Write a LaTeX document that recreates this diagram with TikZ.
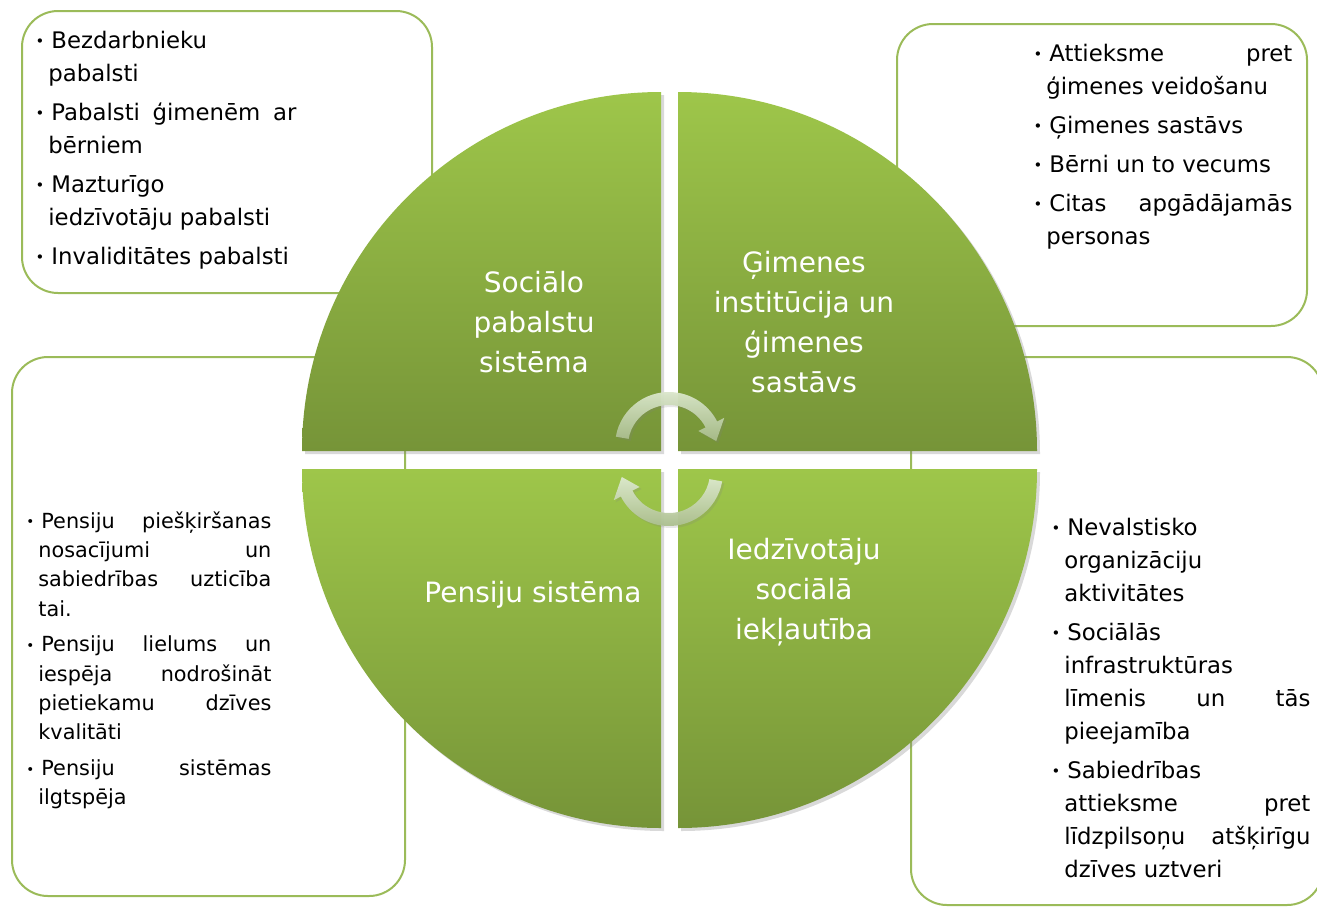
\documentclass[tikz,border=0pt]{standalone}
\usepackage{fontspec}
\setmainfont{DejaVu Sans}
\usetikzlibrary{calc}
\usetikzlibrary{shadows}
\definecolor{qlight}{RGB}{158,198,74}
\definecolor{qdark}{RGB}{118,148,56}
\definecolor{boxline}{RGB}{155,187,89}
\definecolor{arctop}{RGB}{222,234,208}
\definecolor{arcbot}{RGB}{168,188,138}
\newcommand{\bul}{\leavevmode\llap{\raisebox{0.1ex}{\scalebox{0.65}{\textbullet}}\hspace{2pt}}\hspace{1.5pt}}
\hyphenpenalty=10000
\exhyphenpenalty=10000

\begin{document}
\begin{tikzpicture}[
    x=0.5pt, y=-0.5pt,
    boxframe/.style={draw=boxline, line width=1pt, rounded corners=18pt, inner sep=0pt},
    quarter/.style={top color=qlight, bottom color=qdark, drop shadow={opacity=0.3, shadow xshift=1.5pt, shadow yshift=-1.5pt}},
    qtext/.style={text=white, align=center, font=\fontsize{14}{20}\selectfont},
    itemtext/.style={anchor=base west, inner sep=0pt, align=justify, font=\fontsize{11.4}{16.5}\selectfont, execute at begin node={\setlength{\parskip}{3pt}}},
    smalltext/.style={itemtext, font=\fontsize{10.4}{14.7}\selectfont},
    cyclearrow/.style={top color=arctop, bottom color=arcbot, opacity=0.95, drop shadow={opacity=0.2, shadow xshift=1pt, shadow yshift=-1pt}}
]

\useasboundingbox (0,0) rectangle (1317,906);

% frames round the quarters
\node[boxframe, minimum width=205pt, minimum height=141pt] (tlbox) at (227,152) {};
\node[boxframe, minimum width=205pt, minimum height=151pt] (trbox) at (1102,175) {};
\node[boxframe, minimum width=196.5pt, minimum height=269.5pt] (blbox) at (208.5,626.5) {};
\node[boxframe, minimum width=206pt, minimum height=274pt] (brbox) at (1117,631) {};

\node[itemtext, text width=124pt] (tltext) at (48,48) {\bul Bezdarbnieku\linebreak pabalsti\par
  \bul Pabalsti ģimenēm ar\linebreak bērniem\par
  \bul Mazturīgo\linebreak iedzīvotāju pabalsti\par
  \bul Invaliditātes pabalsti};
\node[itemtext, text width=123pt] (trtext) at (1046,61) {\bul Attieksme pret\linebreak ģimenes veidošanu\par
  \bul Ģimenes sastāvs\par
  \bul Bērni un to vecums\par
  \bul Citas apgādājamās\linebreak personas};
\node[smalltext, text width=116.5pt] (bltext) at (38,528) {\bul Pensiju piešķiršanas\linebreak nosacījumi un\linebreak sabiedrības uzticība\linebreak tai.\par
  \bul Pensiju lielums un\linebreak iespēja nodrošināt\linebreak pietiekamu dzīves\linebreak kvalitāti\par
  \bul Pensiju sistēmas\linebreak ilgtspēja};
\node[itemtext, text width=123pt] (brtext) at (1064,535) {\bul Nevalstisko\linebreak organizāciju\linebreak aktivitātes\par
  \bul Sociālās\linebreak infrastruktūras\linebreak līmenis un tās\linebreak pieejamība\par
  \bul Sabiedrības\linebreak attieksme pret\linebreak līdzpilsoņu atšķirīgu\linebreak dzīves uztveri};

% the four quarters
\path[quarter] (661,451) -- (302,451) arc[start angle=180, end angle=270, radius=359] -- cycle;
\path[quarter] (678,451) -- (678,92) arc[start angle=270, end angle=360, radius=359] -- cycle;
\path[quarter] (661,469) -- (661,828) arc[start angle=90, end angle=180, radius=359] -- cycle;
\path[quarter] (678,469) -- (1037,469) arc[start angle=0, end angle=90, radius=359] -- cycle;

\node[qtext] (social) at (534,322) {Sociālo\\pabalstu\\sistēma};
\node[qtext] (family) at (804,322) {Ģimenes\\institūcija un\\ģimenes\\sastāvs};
\node[qtext] (pension) at (533,595) {Pensiju sistēma};
\node[qtext] (inclusion) at (804,592) {Iedzīvotāju\\sociālā\\iekļautība};

% cycle arrows
\coordinate (ctop) at (669,446);
\coordinate (cbot) at (669,472);
\path[cyclearrow] ($(ctop)+(190:54)$) arc[start angle=190, end angle=333, radius=54]
  -- ($(ctop)+(333:62)$) -- ($(ctop)+(354:47.5)$) -- ($(ctop)+(333:33)$) -- ($(ctop)+(333:41)$)
  arc[start angle=333, end angle=190, radius=41] -- cycle;
\path[cyclearrow] ($(cbot)+(10:54)$) arc[start angle=10, end angle=153, radius=54]
  -- ($(cbot)+(153:62)$) -- ($(cbot)+(174:47.5)$) -- ($(cbot)+(153:33)$) -- ($(cbot)+(153:41)$)
  arc[start angle=153, end angle=10, radius=41] -- cycle;

\end{tikzpicture}
\end{document}
